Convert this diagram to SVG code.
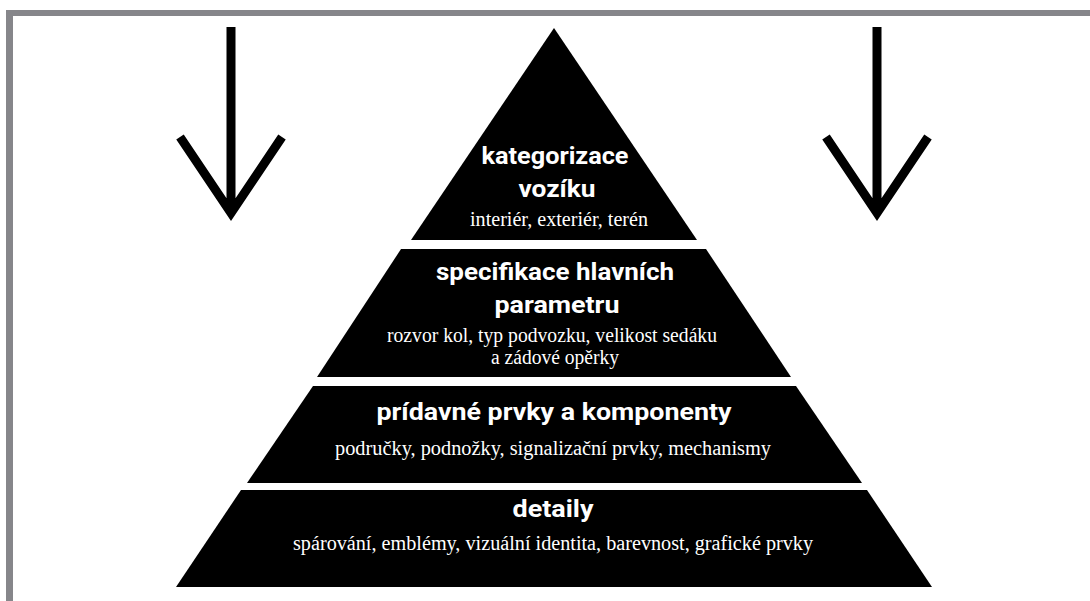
<svg xmlns="http://www.w3.org/2000/svg" width="1090" height="601" viewBox="0 0 1090 601">
<style>
.frame{fill:#86868a}
.tier{fill:#000}
.arrow{fill:none;stroke:#000;stroke-width:9;stroke-linejoin:miter;stroke-miterlimit:10}
.t{font-family:Roboto,"Open Sans","DejaVu Sans",sans-serif;font-weight:700;font-size:24px;fill:#fff;text-anchor:middle}
.s{font-family:"Liberation Serif","DejaVu Serif",serif;font-size:20px;fill:#fff;text-anchor:middle}
</style>
<rect width="1090" height="601" fill="#fff"/>
<g id="frame">
<rect class="frame" x="6" y="10" width="1084" height="6"/>
<rect class="frame" x="6" y="10" width="7" height="591"/>
</g>
<g id="connectors">
<path class="arrow" d="M231 27V212M180 137L231 213L282 137"/>
<path class="arrow" d="M877 27V212M826 137L877 213L928 137"/>
</g>
<g id="tier1">
<polygon class="tier" points="554,28 697,240 411,240"/>
<text class="t" x="555" y="164" textLength="147" lengthAdjust="spacingAndGlyphs">kategorizace</text>
<text class="t" x="557" y="197" textLength="77" lengthAdjust="spacingAndGlyphs">vozíku</text>
<text class="s" x="559" y="226" textLength="178" lengthAdjust="spacingAndGlyphs">interiér, exteriér, terén</text>
</g>
<g id="tier2">
<polygon class="tier" points="401,249 706,249 791,377 317,377"/>
<text class="t" x="555" y="280" textLength="238" lengthAdjust="spacingAndGlyphs">specifikace hlavních</text>
<text class="t" x="557" y="313" textLength="125" lengthAdjust="spacingAndGlyphs">parametru</text>
<text class="s" x="552" y="342" textLength="330" lengthAdjust="spacingAndGlyphs">rozvor kol, typ podvozku, velikost sedáku</text>
<text class="s" x="555" y="364" textLength="128" lengthAdjust="spacingAndGlyphs">a zádové opěrky</text>
</g>
<g id="tier3">
<polygon class="tier" points="313,386 796,386 862,483 247,483"/>
<text class="t" x="554" y="420" textLength="355" lengthAdjust="spacingAndGlyphs">prídavné prvky a komponenty</text>
<text class="s" x="553" y="455" textLength="436" lengthAdjust="spacingAndGlyphs">područky, podnožky, signalizační prvky, mechanismy</text>
</g>
<g id="tier4">
<polygon class="tier" points="241,490 867,490 932,587 176,587"/>
<text class="t" x="553" y="517" textLength="81" lengthAdjust="spacingAndGlyphs">detaily</text>
<text class="s" x="553" y="550" textLength="520" lengthAdjust="spacingAndGlyphs">spárování, emblémy, vizuální identita, barevnost, grafické prvky</text>
</g>
</svg>
